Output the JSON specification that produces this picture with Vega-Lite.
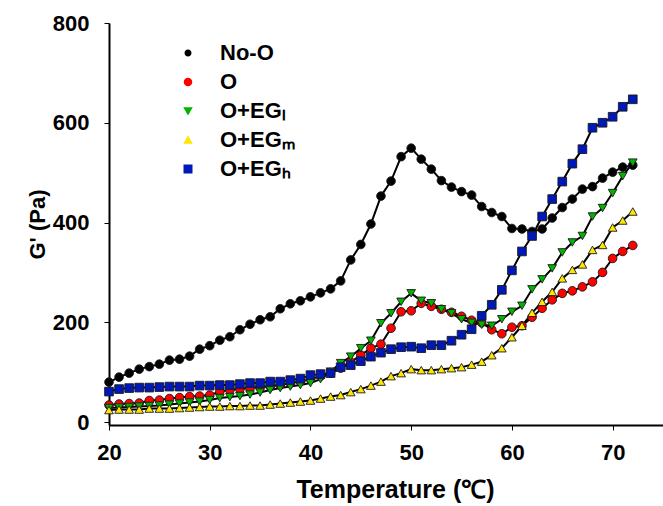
{
  "$schema": "https://vega.github.io/schema/vega-lite/v6.json",
  "width": 554,
  "height": 402,
  "autosize": {"type": "none"},
  "padding": {"left": 109, "top": 23, "right": 0, "bottom": 81},
  "background": "white",
  "config": {
    "view": {"stroke": null},
    "font": "Liberation Sans",
    "axis": {
      "grid": false,
      "domainColor": "black",
      "domainWidth": 2,
      "tickColor": "black",
      "tickWidth": 1,
      "tickSize": 5,
      "labelFont": "Liberation Sans",
      "labelFontWeight": "bold",
      "labelFontSize": 22,
      "labelColor": "black",
      "titleFont": "Liberation Sans",
      "titleFontWeight": "bold",
      "titleColor": "black"
    }
  },
  "data": {
    "values": [
      {"s":"No-O","T":20,"G":80},{"s":"No-O","T":21,"G":90},{"s":"No-O","T":22,"G":98},{"s":"No-O","T":23,"G":106},{"s":"No-O","T":24,"G":111},{"s":"No-O","T":25,"G":116},{"s":"No-O","T":26,"G":124},{"s":"No-O","T":27,"G":126},{"s":"No-O","T":28,"G":132},{"s":"No-O","T":29,"G":146},{"s":"No-O","T":30,"G":153},{"s":"No-O","T":31,"G":164},{"s":"No-O","T":32,"G":171},{"s":"No-O","T":33,"G":185},{"s":"No-O","T":34,"G":196},{"s":"No-O","T":35,"G":205},{"s":"No-O","T":36,"G":211},{"s":"No-O","T":37,"G":227},{"s":"No-O","T":38,"G":237},{"s":"No-O","T":39,"G":243},{"s":"No-O","T":40,"G":251},{"s":"No-O","T":41,"G":259},{"s":"No-O","T":42,"G":267},{"s":"No-O","T":43,"G":283},{"s":"No-O","T":44,"G":325},{"s":"No-O","T":45,"G":356},{"s":"No-O","T":46,"G":397},{"s":"No-O","T":47,"G":453},{"s":"No-O","T":48,"G":483},{"s":"No-O","T":49,"G":532},{"s":"No-O","T":50,"G":549},{"s":"No-O","T":51,"G":527},{"s":"No-O","T":52,"G":507},{"s":"No-O","T":53,"G":484},{"s":"No-O","T":54,"G":471},{"s":"No-O","T":55,"G":462},{"s":"No-O","T":56,"G":455},{"s":"No-O","T":57,"G":432},{"s":"No-O","T":58,"G":420},{"s":"No-O","T":59,"G":412},{"s":"No-O","T":60,"G":388},{"s":"No-O","T":61,"G":387},{"s":"No-O","T":62,"G":382},{"s":"No-O","T":63,"G":387},{"s":"No-O","T":64,"G":409},{"s":"No-O","T":65,"G":430},{"s":"No-O","T":66,"G":447},{"s":"No-O","T":67,"G":467},{"s":"No-O","T":68,"G":472},{"s":"No-O","T":69,"G":489},{"s":"No-O","T":70,"G":501},{"s":"No-O","T":71,"G":511},{"s":"No-O","T":72,"G":515},
      {"s":"O","T":20,"G":34},{"s":"O","T":21,"G":36},{"s":"O","T":22,"G":37},{"s":"O","T":23,"G":38},{"s":"O","T":24,"G":43},{"s":"O","T":25,"G":44},{"s":"O","T":26,"G":47},{"s":"O","T":27,"G":49},{"s":"O","T":28,"G":51},{"s":"O","T":29,"G":52},{"s":"O","T":30,"G":54},{"s":"O","T":31,"G":61},{"s":"O","T":32,"G":64},{"s":"O","T":33,"G":66},{"s":"O","T":34,"G":68},{"s":"O","T":35,"G":70},{"s":"O","T":36,"G":71},{"s":"O","T":37,"G":74},{"s":"O","T":38,"G":78},{"s":"O","T":39,"G":81},{"s":"O","T":40,"G":86},{"s":"O","T":41,"G":92},{"s":"O","T":42,"G":98},{"s":"O","T":43,"G":108},{"s":"O","T":44,"G":120},{"s":"O","T":45,"G":134},{"s":"O","T":46,"G":148},{"s":"O","T":47,"G":156},{"s":"O","T":48,"G":188},{"s":"O","T":49,"G":221},{"s":"O","T":50,"G":223},{"s":"O","T":51,"G":238},{"s":"O","T":52,"G":232},{"s":"O","T":53,"G":226},{"s":"O","T":54,"G":220},{"s":"O","T":55,"G":212},{"s":"O","T":56,"G":204},{"s":"O","T":57,"G":199},{"s":"O","T":58,"G":185},{"s":"O","T":59,"G":177},{"s":"O","T":60,"G":190},{"s":"O","T":61,"G":193},{"s":"O","T":62,"G":210},{"s":"O","T":63,"G":228},{"s":"O","T":64,"G":245},{"s":"O","T":65,"G":258},{"s":"O","T":66,"G":263},{"s":"O","T":67,"G":271},{"s":"O","T":68,"G":281},{"s":"O","T":69,"G":300},{"s":"O","T":70,"G":328},{"s":"O","T":71,"G":342},{"s":"O","T":72,"G":354},
      {"s":"O+EG_L","T":20,"G":28},{"s":"O+EG_L","T":21,"G":29},{"s":"O+EG_L","T":22,"G":30},{"s":"O+EG_L","T":23,"G":31},{"s":"O+EG_L","T":24,"G":32},{"s":"O+EG_L","T":25,"G":33},{"s":"O+EG_L","T":26,"G":35},{"s":"O+EG_L","T":27,"G":37},{"s":"O+EG_L","T":28,"G":39},{"s":"O+EG_L","T":29,"G":41},{"s":"O+EG_L","T":30,"G":44},{"s":"O+EG_L","T":31,"G":48},{"s":"O+EG_L","T":32,"G":50},{"s":"O+EG_L","T":33,"G":52},{"s":"O+EG_L","T":34,"G":55},{"s":"O+EG_L","T":35,"G":59},{"s":"O+EG_L","T":36,"G":64},{"s":"O+EG_L","T":37,"G":68},{"s":"O+EG_L","T":38,"G":71},{"s":"O+EG_L","T":39,"G":74},{"s":"O+EG_L","T":40,"G":78},{"s":"O+EG_L","T":41,"G":86},{"s":"O+EG_L","T":42,"G":101},{"s":"O+EG_L","T":43,"G":118},{"s":"O+EG_L","T":44,"G":131},{"s":"O+EG_L","T":45,"G":148},{"s":"O+EG_L","T":46,"G":163},{"s":"O+EG_L","T":47,"G":198},{"s":"O+EG_L","T":48,"G":218},{"s":"O+EG_L","T":49,"G":241},{"s":"O+EG_L","T":50,"G":258},{"s":"O+EG_L","T":51,"G":243},{"s":"O+EG_L","T":52,"G":238},{"s":"O+EG_L","T":53,"G":226},{"s":"O+EG_L","T":54,"G":218},{"s":"O+EG_L","T":55,"G":206},{"s":"O+EG_L","T":56,"G":199},{"s":"O+EG_L","T":57,"G":195},{"s":"O+EG_L","T":58,"G":193},{"s":"O+EG_L","T":59,"G":206},{"s":"O+EG_L","T":60,"G":221},{"s":"O+EG_L","T":61,"G":233},{"s":"O+EG_L","T":62,"G":266},{"s":"O+EG_L","T":63,"G":286},{"s":"O+EG_L","T":64,"G":308},{"s":"O+EG_L","T":65,"G":340},{"s":"O+EG_L","T":66,"G":360},{"s":"O+EG_L","T":67,"G":373},{"s":"O+EG_L","T":68,"G":412},{"s":"O+EG_L","T":69,"G":429},{"s":"O+EG_L","T":70,"G":459},{"s":"O+EG_L","T":71,"G":493},{"s":"O+EG_L","T":72,"G":520},
      {"s":"O+EG_M","T":20,"G":24},{"s":"O+EG_M","T":21,"G":25},{"s":"O+EG_M","T":22,"G":25},{"s":"O+EG_M","T":23,"G":25},{"s":"O+EG_M","T":24,"G":27},{"s":"O+EG_M","T":25,"G":27},{"s":"O+EG_M","T":26,"G":27},{"s":"O+EG_M","T":27,"G":28},{"s":"O+EG_M","T":28,"G":29},{"s":"O+EG_M","T":29,"G":30},{"s":"O+EG_M","T":30,"G":31},{"s":"O+EG_M","T":31,"G":31},{"s":"O+EG_M","T":32,"G":32},{"s":"O+EG_M","T":33,"G":32},{"s":"O+EG_M","T":34,"G":33},{"s":"O+EG_M","T":35,"G":33},{"s":"O+EG_M","T":36,"G":35},{"s":"O+EG_M","T":37,"G":37},{"s":"O+EG_M","T":38,"G":39},{"s":"O+EG_M","T":39,"G":41},{"s":"O+EG_M","T":40,"G":43},{"s":"O+EG_M","T":41,"G":47},{"s":"O+EG_M","T":42,"G":51},{"s":"O+EG_M","T":43,"G":54},{"s":"O+EG_M","T":44,"G":60},{"s":"O+EG_M","T":45,"G":66},{"s":"O+EG_M","T":46,"G":73},{"s":"O+EG_M","T":47,"G":81},{"s":"O+EG_M","T":48,"G":92},{"s":"O+EG_M","T":49,"G":98},{"s":"O+EG_M","T":50,"G":106},{"s":"O+EG_M","T":51,"G":104},{"s":"O+EG_M","T":52,"G":104},{"s":"O+EG_M","T":53,"G":106},{"s":"O+EG_M","T":54,"G":108},{"s":"O+EG_M","T":55,"G":110},{"s":"O+EG_M","T":56,"G":115},{"s":"O+EG_M","T":57,"G":121},{"s":"O+EG_M","T":58,"G":134},{"s":"O+EG_M","T":59,"G":148},{"s":"O+EG_M","T":60,"G":170},{"s":"O+EG_M","T":61,"G":193},{"s":"O+EG_M","T":62,"G":219},{"s":"O+EG_M","T":63,"G":241},{"s":"O+EG_M","T":64,"G":261},{"s":"O+EG_M","T":65,"G":288},{"s":"O+EG_M","T":66,"G":305},{"s":"O+EG_M","T":67,"G":316},{"s":"O+EG_M","T":68,"G":345},{"s":"O+EG_M","T":69,"G":355},{"s":"O+EG_M","T":70,"G":390},{"s":"O+EG_M","T":71,"G":404},{"s":"O+EG_M","T":72,"G":422},
      {"s":"O+EG_H","T":20,"G":61},{"s":"O+EG_H","T":21,"G":66},{"s":"O+EG_H","T":22,"G":68},{"s":"O+EG_H","T":23,"G":69},{"s":"O+EG_H","T":24,"G":69},{"s":"O+EG_H","T":25,"G":70},{"s":"O+EG_H","T":26,"G":71},{"s":"O+EG_H","T":27,"G":71},{"s":"O+EG_H","T":28,"G":71},{"s":"O+EG_H","T":29,"G":73},{"s":"O+EG_H","T":30,"G":73},{"s":"O+EG_H","T":31,"G":74},{"s":"O+EG_H","T":32,"G":74},{"s":"O+EG_H","T":33,"G":76},{"s":"O+EG_H","T":34,"G":78},{"s":"O+EG_H","T":35,"G":78},{"s":"O+EG_H","T":36,"G":81},{"s":"O+EG_H","T":37,"G":81},{"s":"O+EG_H","T":38,"G":84},{"s":"O+EG_H","T":39,"G":87},{"s":"O+EG_H","T":40,"G":94},{"s":"O+EG_H","T":41,"G":96},{"s":"O+EG_H","T":42,"G":98},{"s":"O+EG_H","T":43,"G":110},{"s":"O+EG_H","T":44,"G":114},{"s":"O+EG_H","T":45,"G":122},{"s":"O+EG_H","T":46,"G":131},{"s":"O+EG_H","T":47,"G":139},{"s":"O+EG_H","T":48,"G":146},{"s":"O+EG_H","T":49,"G":150},{"s":"O+EG_H","T":50,"G":151},{"s":"O+EG_H","T":51,"G":148},{"s":"O+EG_H","T":52,"G":154},{"s":"O+EG_H","T":53,"G":154},{"s":"O+EG_H","T":54,"G":163},{"s":"O+EG_H","T":55,"G":175},{"s":"O+EG_H","T":56,"G":186},{"s":"O+EG_H","T":57,"G":213},{"s":"O+EG_H","T":58,"G":235},{"s":"O+EG_H","T":59,"G":265},{"s":"O+EG_H","T":60,"G":304},{"s":"O+EG_H","T":61,"G":342},{"s":"O+EG_H","T":62,"G":373},{"s":"O+EG_H","T":63,"G":412},{"s":"O+EG_H","T":64,"G":447},{"s":"O+EG_H","T":65,"G":482},{"s":"O+EG_H","T":66,"G":518},{"s":"O+EG_H","T":67,"G":547},{"s":"O+EG_H","T":68,"G":590},{"s":"O+EG_H","T":69,"G":600},{"s":"O+EG_H","T":70,"G":612},{"s":"O+EG_H","T":71,"G":632},{"s":"O+EG_H","T":72,"G":647}
    ]
  },
  "encoding": {
    "x": {
      "field": "T", "type": "quantitative",
      "scale": {"domain": [20, 75], "nice": false, "zero": false},
      "axis": {"values": [20, 30, 40, 50, 60, 70], "title": "Temperature (℃)", "titleFontSize": 25, "titleX": 286, "labelPadding": 12, "titlePadding": 14, "labelFlush": false}
    },
    "y": {
      "field": "G", "type": "quantitative",
      "scale": {"domain": [-6, 800], "nice": false, "zero": false},
      "axis": {"values": [0, 200, 400, 600, 800], "title": "G' (Pa)", "titleFontSize": 22, "labelPadding": 15, "titlePadding": 3}
    }
  },
  "resolve": {"scale": {"shape": "independent", "fill": "independent"}},
  "layer": [
    {
      "mark": {"type": "line", "color": "black", "strokeWidth": 2},
      "encoding": {"detail": {"field": "s", "type": "nominal"}}
    },
    {
      "mark": {"type": "point", "filled": true, "stroke": "#1a1a1a", "strokeWidth": 0.9, "opacity": 1, "size": 75},
      "encoding": {
        "shape": {
          "field": "s", "type": "nominal",
          "scale": {"domain": ["No-O", "O", "O+EG_L", "O+EG_M", "O+EG_H"], "range": ["circle", "circle", "triangle-down", "triangle-up", "square"]},
          "legend": null
        },
        "fill": {
          "field": "s", "type": "nominal",
          "scale": {"domain": ["No-O", "O", "O+EG_L", "O+EG_M", "O+EG_H"], "range": ["#000000", "#ff0000", "#00b400", "#ffe600", "#0018b8"]},
          "legend": null
        }
      }
    },
    {
      "transform": [{"filter": "false"}],
      "mark": {"type": "point", "filled": false, "stroke": "black", "strokeWidth": 1.5, "opacity": 1, "size": 100},
      "encoding": {
        "shape": {
          "field": "s", "type": "nominal",
          "scale": {"domain": ["No-O", "O", "O+EG_L", "O+EG_M", "O+EG_H"], "range": [
            "M-5,0H5M0.7,0A0.7,0.7 0 1,1 -0.7,0A0.7,0.7 0 1,1 0.7,0Z",
            "M-5,0H5M0.85,0A0.85,0.85 0 1,1 -0.85,0A0.85,0.85 0 1,1 0.85,0Z",
            "M-5,0H5M-0.95,-0.75L0.95,-0.75L0,0.9Z",
            "M-5,0H5M-0.95,0.75L0.95,0.75L0,-0.9Z",
            "M-5,0H5M-0.9,-0.9H0.9V0.9H-0.9Z"]},
          "legend": {
            "title": null,
            "orient": "none",
            "legendX": 68,
            "legendY": 19,
            "symbolSize": 100,
            "symbolStrokeWidth": 1.5,
            "symbolStrokeColor": "black",
            "symbolOpacity": 1,
            "labelFont": "Liberation Sans",
            "labelFontWeight": "bold",
            "labelFontSize": 22,
            "labelColor": "black",
            "labelOffset": 21,
            "rowPadding": 7,
            "labelExpr": "datum.label == 'O+EG_L' ? 'O+EGₗ' : datum.label == 'O+EG_M' ? 'O+EGₘ' : datum.label == 'O+EG_H' ? 'O+EGₕ' : datum.label"
          }
        },
        "fill": {
          "field": "s", "type": "nominal",
          "scale": {"domain": ["No-O", "O", "O+EG_L", "O+EG_M", "O+EG_H"], "range": ["#000000", "#ff0000", "#00b400", "#ffe600", "#0018b8"]},
          "legend": {
            "title": null,
            "orient": "none",
            "legendX": 68,
            "legendY": 19,
            "symbolSize": 100,
            "symbolStrokeWidth": 1.5,
            "symbolStrokeColor": "black",
            "symbolOpacity": 1,
            "labelFont": "Liberation Sans",
            "labelFontWeight": "bold",
            "labelFontSize": 22,
            "labelColor": "black",
            "labelOffset": 21,
            "rowPadding": 7,
            "labelExpr": "datum.label == 'O+EG_L' ? 'O+EGₗ' : datum.label == 'O+EG_M' ? 'O+EGₘ' : datum.label == 'O+EG_H' ? 'O+EGₕ' : datum.label"
          }
        }
      }
    }
  ]
}
